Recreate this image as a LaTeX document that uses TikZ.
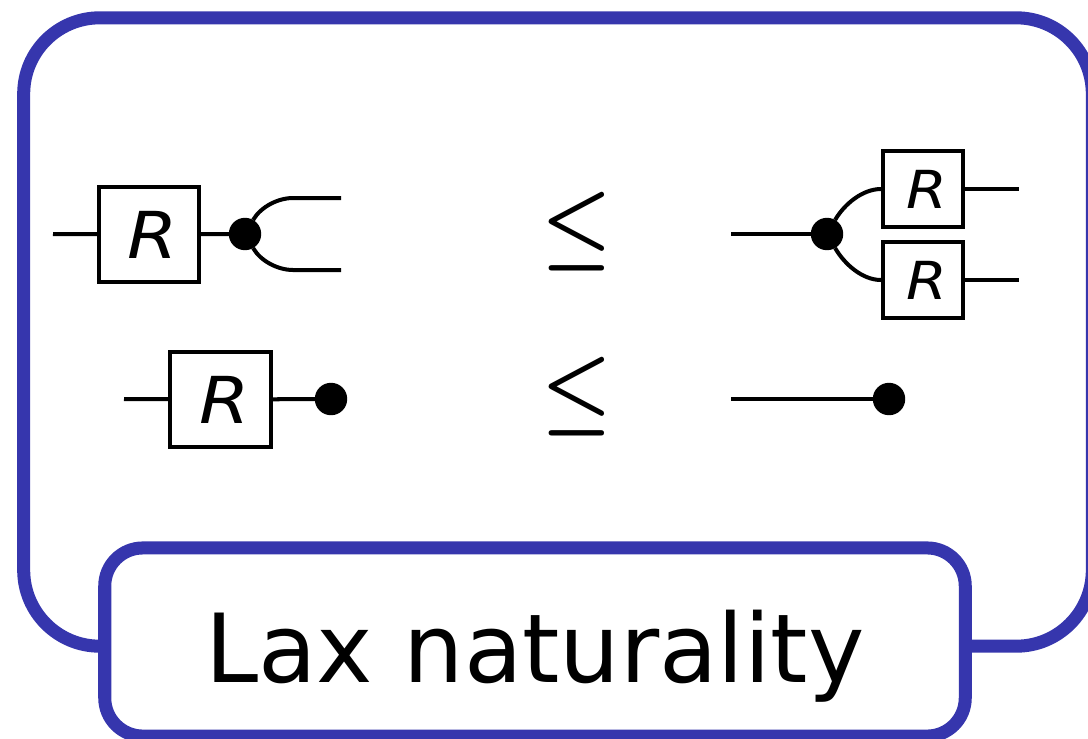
\documentclass[tikz,border=0pt]{standalone}
\usepackage{fontspec}
\newfontfamily\labelfont{DejaVu Sans}
\newfontfamily\boxfont[FakeStretch=1.12]{DejaVu Sans}
\definecolor{framecol}{RGB}{54,54,173}
\newcommand*{\boxname}{\hspace*{0.08cm}R}

\begin{document}
\begin{tikzpicture}
[
	x=0.01cm,
	y=0.01cm,
	wire/.style={line width=1.14pt},
	dotpt/.style={circle,draw,fill,inner sep=0pt,minimum size=0.31cm},
	bigbox/.style={draw,line width=1.14pt,inner sep=0pt,minimum width=1cm,minimum height=0.95cm,font=\boxfont\itshape\fontsize{18.4}{19}\selectfont},
	smallbox/.style={draw,line width=1.14pt,inner sep=0pt,minimum width=0.8cm,minimum height=0.76cm,font=\boxfont\itshape\fontsize{14.9}{15}\selectfont},
	frame/.style={draw=framecol,line width=3.7pt,rounded corners=0.76cm,inner sep=0pt,minimum width=10.68cm,minimum height=6.28cm},
	caption/.style={draw=framecol,fill=white,line width=3.7pt,rounded corners=0.38cm,inner sep=0pt,minimum width=8.6cm,minimum height=1.88cm,text height=1cm,text depth=0.2cm,font=\labelfont\fontsize{27.1}{28}\selectfont},
	relsym/.style={xscale=2.25,yscale=2.5,font=\boldmath}
]

	\useasboundingbox (0,0) rectangle (1088,738);
	\clip (0,0) rectangle (1088,738);

	% frame and its label
	\node[frame] at (558,406) (outer) {};
	\node[caption] at (535,96) (title) {Lax naturality};

	% first row, left
	\node[bigbox] at (149,503.5) (boxa) {\boxname};
	\node[dotpt] at (245,504) (copya) {};
	\coordinate (ina) at (53,504);
	\coordinate (upa) at (293,540);
	\coordinate (upenda) at (341,540);
	\coordinate (lowa) at (293,468);
	\coordinate (lowenda) at (341,468);
	\draw[wire] (ina) -- (boxa);
	\draw[wire] (boxa) -- (copya);
	\draw[wire] (copya) to[out=60,in=180,looseness=0.85] (upa) -- (upenda);
	\draw[wire] (copya) to[out=-60,in=180,looseness=0.85] (lowa) -- (lowenda);

	% first row, right
	\node[dotpt] at (827,504) (copyb) {};
	\node[smallbox] at (923,549) (boxb) {\boxname};
	\node[smallbox] at (923,458) (boxc) {\boxname};
	\coordinate (inb) at (731,504);
	\coordinate (outb) at (1019,549);
	\coordinate (outc) at (1019,458);
	\draw[wire] (inb) -- (copyb);
	\draw[wire] (copyb) to[out=60,in=180,looseness=0.85] (boxb.west);
	\draw[wire] (copyb) to[out=-60,in=180,looseness=0.85] (boxc.west);
	\draw[wire] (boxb) -- (outb);
	\draw[wire] (boxc) -- (outc);

	% second row
	\node[bigbox] at (220.5,338.5) (boxd) {\boxname};
	\node[dotpt] at (331,339) (deld) {};
	\coordinate (ind) at (124,339);
	\draw[wire] (ind) -- (boxd);
	\draw[wire] (boxd) -- (deld);

	\node[dotpt] at (889,339) (dele) {};
	\coordinate (ine) at (731,339);
	\draw[wire] (ine) -- (dele);

	% inequalities
	\node[relsym] at (577,506.5) (lea) {$\leq$};
	\node[relsym] at (577,341.5) (leb) {$\leq$};

\end{tikzpicture}
\end{document}
